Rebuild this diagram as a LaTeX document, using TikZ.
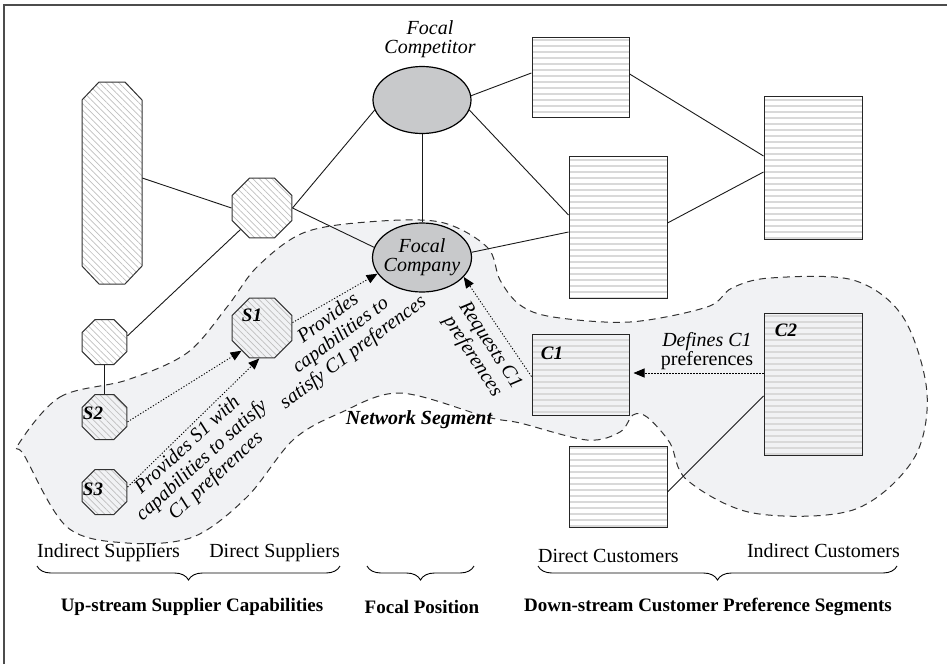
\documentclass[tikz,border=0pt]{standalone}
\usepackage{fontspec}
\setmainfont{Liberation Serif}
\usetikzlibrary{shapes.geometric,patterns.meta,arrows.meta,decorations.pathreplacing,calc}
\definecolor{regiongray}{HTML}{F1F2F4}
\definecolor{ellgray}{HTML}{C8C9CB}
\tikzset{
  octo/.style={regular polygon, regular polygon sides=8, draw=black!80, line width=1pt, inner sep=0pt,
    pattern={Lines[angle=-45,distance=4.5pt,line width=0.7pt]}, pattern color=black!25},
  hatchpath/.style={draw=black!80, line width=1pt,
    pattern={Lines[angle=-45,distance=4.5pt,line width=0.7pt]}, pattern color=black!25},
  hbox/.style={rectangle, draw=black!85, line width=1pt, inner sep=0pt,
    pattern={Lines[angle=0,distance=6pt,line width=1.3pt]}, pattern color=black!15},
  focal/.style={ellipse, draw=black, line width=1.2pt, fill=ellgray, inner sep=0pt},
  link/.style={line width=0.9pt, draw=black!90},
  flow/.style={line width=0.9pt, dash pattern=on 1.2pt off 1.8pt, -{Triangle[length=11pt,width=9pt]}},
  slabel/.style={font=\fontsize{19}{19}\selectfont\bfseries\itshape, inner sep=0pt},
  itxt/.style={font=\fontsize{20}{21}\selectfont\itshape, align=center, inner sep=0pt},
  rtxt/.style={font=\fontsize{20}{20}\selectfont, inner sep=0pt},
  btxt/.style={font=\fontsize{19}{19}\selectfont\bfseries, inner sep=0pt},
  bracedraw/.style={line width=0.9pt, decorate, decoration={brace, mirror, amplitude=14pt}}
}
\begin{document}
\begin{tikzpicture}[x=1pt,y=-1pt]
\useasboundingbox (0,0) rectangle (947,664);
\draw[line width=1.5pt, black!70] (4,664) -- (4,5) -- (947,5);

% network segment
\draw[fill=regiongray, draw=black!80, line width=1pt, dash pattern=on 7pt off 5pt]
  plot[smooth cycle, tension=0.55] coordinates {
  (18,445) (60,397) (127,380) (187,353) (227,307) (257,267) (303,233) (367,222) (440,222)
  (487,247) (500,280) (520,305) (553,317) (630,322) (707,307) (732,288) (770,278) (853,280)
  (903,317) (927,393) (913,460) (853,510) (753,513) (687,480) (670,443) (647,417) (633,415)
  (620,432) (587,440) (520,423) (487,417) (400,393) (340,413) (293,440) (247,497) (193,537)
  (127,543) (67,527) (24,455)};

% tall octagon
\draw[hatchpath] (82,100) -- (99,82) -- (125,82) -- (142,100) -- (142,266) -- (125,284) -- (99,284) -- (82,266) -- cycle;
\node[minimum width=60, minimum height=202, inner sep=0pt] (tall) at (112,183) {};

\node[octo, minimum size=64.9] (mid) at (262,208) {};
\node[octo, minimum size=48.7] (small) at (104.5,342) {};
\node[octo, minimum size=48.7] (s2) at (104.5,417) {};
\node[octo, minimum size=48.7] (s3) at (104.5,492) {};
\node[octo, minimum size=64.9] (s1) at (262,328) {};

\node[focal, minimum width=98, minimum height=67] (comp) at (422,100) {};
\node[focal, minimum width=99, minimum height=69] (company) at (422,257.5) {};
\node[itxt, font=\fontsize{20}{19}\selectfont\itshape] (comptext) at (430,39) {Focal\\Competitor};
\node[itxt, font=\fontsize{20}{19}\selectfont\itshape] (companytext) at (422,257.5) {Focal\\Company};

\node[hbox, minimum width=97, minimum height=80] (r1) at (580.5,77) {};
\node[hbox, minimum width=98, minimum height=142] (r2) at (618,227) {};
\node[hbox, minimum width=98, minimum height=143] (r3) at (813,167.5) {};
\node[hbox, minimum width=97, minimum height=81] (c1) at (580.5,374.5) {};
\node[hbox, minimum width=98, minimum height=142] (c2) at (813,384) {};
\node[hbox, minimum width=98, minimum height=81] (rb) at (618,486.5) {};

% links
\draw[link] ([yshift=5pt]tall.east) -- (mid.west);
\draw[link] (mid.east) -- (comp.192);
\draw[link] (mid.east) -- (company.168);
\draw[link] (small.15) -- (mid.225);
\draw[link] (small) -- (s2);
\draw[link] (comp.south) -- (company.north);
\draw[link] (comp.5) -- ([yshift=4pt]r1.west);
\draw[link] (comp.-12) -- ([yshift=12pt]r2.west);
\draw[link] (company.6) -- ([yshift=-5pt]r2.west);
\draw[link] ([yshift=3pt]r1.east) -- ([yshift=11.5pt]r3.west);
\draw[link] ([yshift=4pt]r2.east) -- ([yshift=-4.5pt]r3.west);
\draw[link] ([yshift=-12pt]c2.west) -- ([yshift=-5.5pt]rb.east);

% flows
\draw[flow] (s2.-12) -- (s1.228);
\draw[flow] (s3.12) -- (s1.265);
\draw[flow] (s1.10) -- (company.200);
\draw[flow] ([yshift=-2pt]c1.west) -- (company.-25);
\coordinate (c2a) at ([yshift=11pt]c2.west);
\draw[flow] (c2a) -- ($(c1.east |- c2a)+(4,0)$);

% shape labels
\node[slabel] (s1l) at (252,315) {S1};
\node[slabel] (s2l) at (93,413) {S2};
\node[slabel] (s3l) at (93,489) {S3};
\node[slabel] (c1l) at (552,353) {C1};
\node[slabel] (c2l) at (786,330) {C2};
\node[slabel, font=\fontsize{20}{20}\selectfont\bfseries\itshape] (netl) at (419,420) {Network Segment};

% flow labels
\node[itxt, rotate=42.5] (lab1) at (202,461) {Provides S1 with\\capabilities to satisfy\\C1 preferences};
\node[itxt, rotate=36.5] (lab2) at (341,336) {Provides\\capabilities to\\satisfy C1 preferences};
\node[itxt, rotate=-57] (lab3) at (481,351) {Requests C1\\preferences};
\node[align=center, inner sep=0pt, font=\fontsize{20}{17}\selectfont] (lab4) at (707,351) {\textit{Defines C1}\\preferences};

% bottom legend
\node[rtxt, anchor=west] (isup) at (37,553) {Indirect Suppliers};
\node[rtxt, anchor=east] (dsup) at (340,553) {Direct Suppliers};
\node[rtxt, anchor=west] (dcus) at (538,556) {Direct Customers};
\node[rtxt, anchor=east] (icus) at (900,551) {Indirect Customers};
\coordinate (b1a) at (37,566); \coordinate (b1b) at (340,566);
\coordinate (b2a) at (367,566); \coordinate (b2b) at (474,566);
\coordinate (b3a) at (538,566); \coordinate (b3b) at (897,566);
\draw[bracedraw] (b1a) -- (b1b);
\draw[bracedraw] (b2a) -- (b2b);
\draw[bracedraw] (b3a) -- (b3b);
\node[btxt] (up) at (192,607) {Up-stream Supplier Capabilities};
\node[btxt] (fp) at (422,607) {Focal Position};
\node[btxt] (down) at (708,607) {Down-stream Customer Preference Segments};
\end{tikzpicture}
\end{document}
